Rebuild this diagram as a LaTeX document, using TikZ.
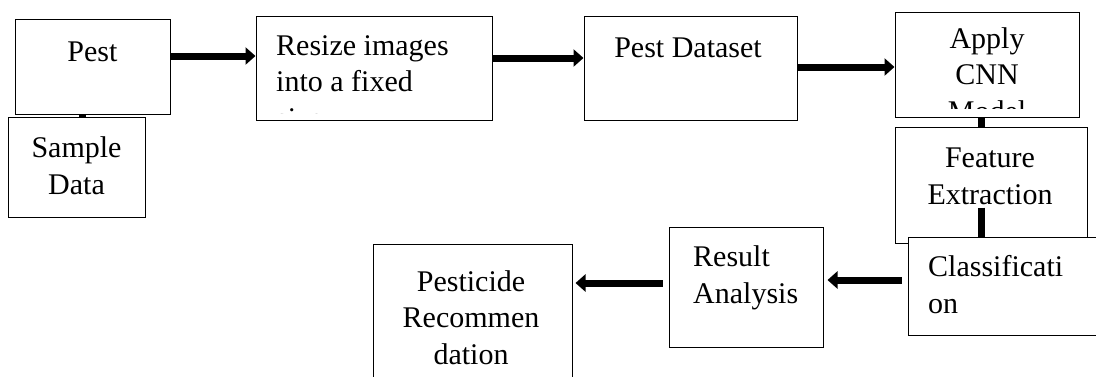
\documentclass[tikz,border=0pt]{standalone}
\usepackage{fontspec}
\setmainfont{Liberation Serif}
\usetikzlibrary{arrows.meta}
\begin{document}
\begin{tikzpicture}[x=1pt,y=-1pt]

\tikzstyle{box}=[rectangle,draw,fill=white,line width=1pt,inner sep=0pt]
\tikzstyle{txt}=[inner sep=0pt,anchor=base,align=center,font=\fontsize{30}{36.5}\selectfont]
\tikzstyle{link}=[line width=7pt]
\tikzstyle{flow}=[link,-{Triangle[length=10pt,width=17pt]}]

\useasboundingbox (0,0) rectangle (1096,376);

\node[box,minimum width=155pt,minimum height=95pt]  (pest)    at ( 92.5, 66.5) {};
\node[box,minimum width=137pt,minimum height=100pt] (sample)  at ( 76.5,167)   {};
\node[box,minimum width=236pt,minimum height=104pt] (resize)  at (374,  68)    {};
\node[box,minimum width=213pt,minimum height=104pt] (dataset) at (690.5, 68)   {};
\node[box,minimum width=184pt,minimum height=105pt] (apply)   at (987,  64.5)  {};
\node[box,minimum width=192pt,minimum height=116pt] (feature) at (991, 185)    {};
\node[box,minimum width=154pt,minimum height=120pt] (result)  at (746, 287)    {};
\node[box,minimum width=199pt,minimum height=136pt] (pesti)   at (472.5,312)   {};

\node[txt] (pestText)    at ( 92.5, 61) {Pest};
\node[txt] (sampleText)  at ( 76.5,194) {Sample\\Data};
\node[txt] (datasetText) at (688,  57)  {Pest Dataset};
\node[txt] (featureText) at (990, 204)  {Feature\\Extraction};
\node[txt,anchor=base west,align=left] (resultText) at (693,303) {Result\\Analysis};
\node[txt] (pestiText)   at (471, 364)  {Pesticide\\Recommen\\dation};

\begin{scope}
\clip (256,16) rectangle (492,113);
\node[txt,anchor=base west,align=left] (resizeText) at (276,128) {Resize images\\into a fixed\\size.};
\end{scope}
\begin{scope}
\clip (895,12) rectangle (1079,108);
\node[txt] (applyText) at (987,121) {Apply\\CNN\\Model};
\end{scope}

\draw[link] ([xshift=-10pt,yshift=36pt]feature.south) -- ([xshift=-10pt]feature.south |- 0,237);

\node[box,minimum width=192pt,minimum height=98pt]  (class)   at (1004,286)    {};
\node[txt,anchor=base west,align=left] (classText) at (928,313) {Classificati\\on};

\draw[link] ([xshift=-10.5pt]pest.south) -- ([xshift=-10.5pt]pest.south |- sample.north);
\draw[flow] ([yshift=10.5pt]pest.east) -- ([yshift=10.5pt]pest.east -| resize.west);
\draw[flow] ([yshift=10pt]resize.east) -- ([yshift=10pt]resize.east -| dataset.west);
\draw[flow] ([yshift=1pt]dataset.east) -- ([yshift=1pt]dataset.east -| apply.west);
\draw[link] ([xshift=-6pt]apply.south) -- ([xshift=-6pt]apply.south |- feature.north);
\draw[flow,shorten <=6pt,shorten >=4pt] ([yshift=6pt]class.west) -- ([yshift=6pt]class.west -| result.east);
\draw[flow,shorten <=6pt,shorten >=3pt] ([yshift=4pt]result.west) -- ([yshift=4pt]result.west -| pesti.east);

\end{tikzpicture}
\end{document}
